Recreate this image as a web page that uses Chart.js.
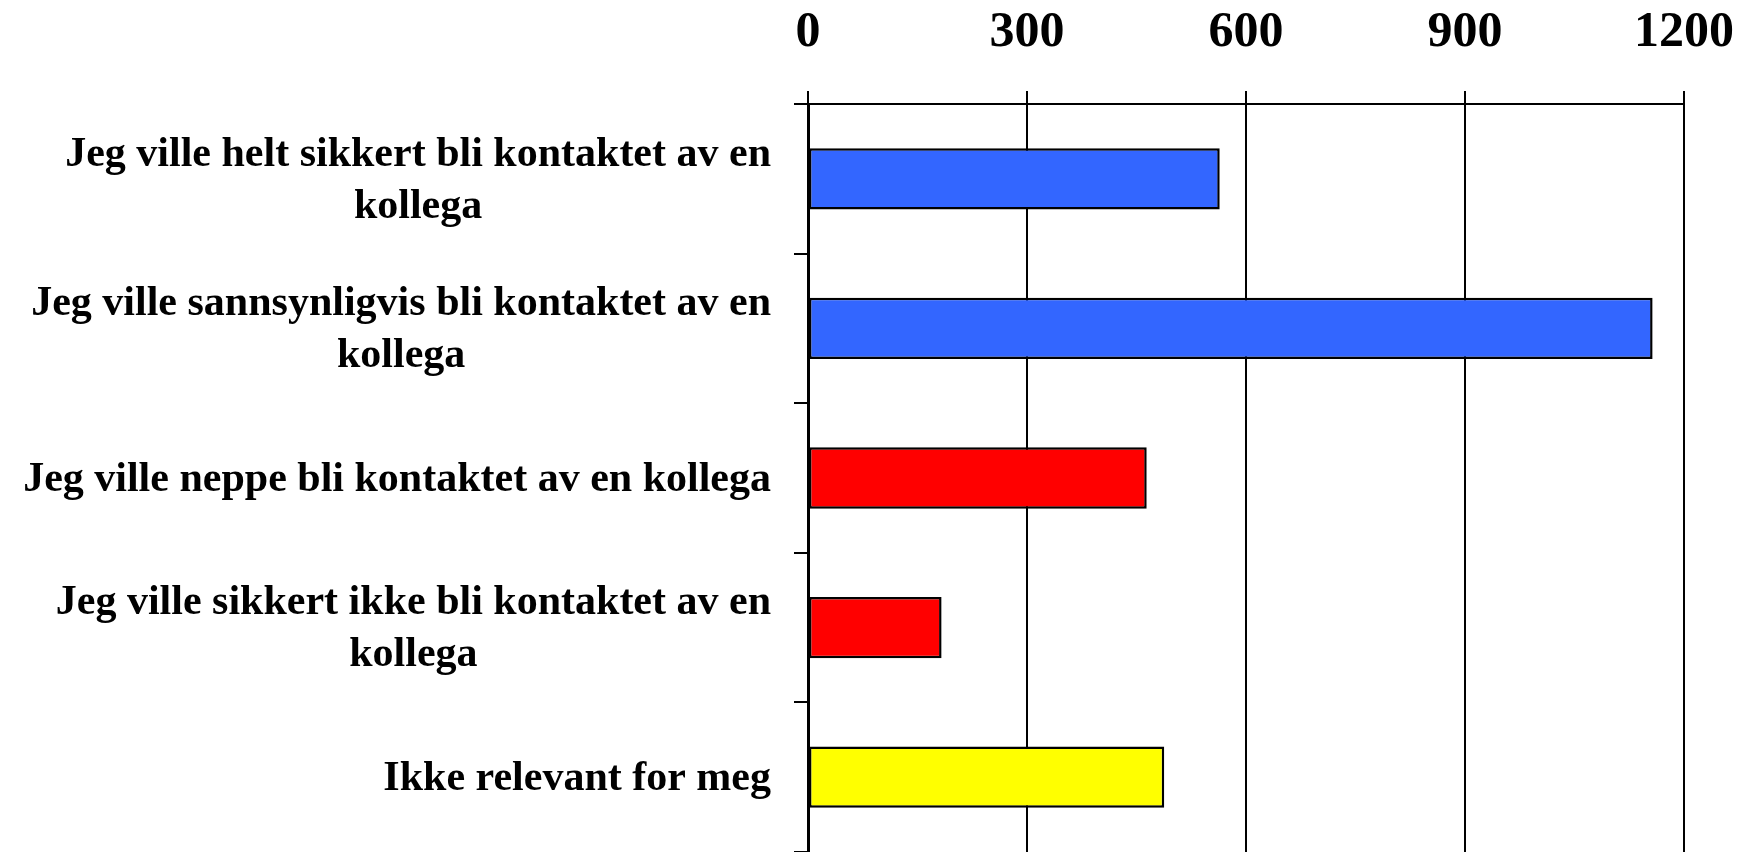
<!DOCTYPE html>
<html>
<head>
<meta charset="utf-8">
<script src="https://cdn.jsdelivr.net/npm/chart.js@4/dist/chart.umd.min.js"></script>
<style>
  html, body { margin: 0; padding: 0; background: #fff; }
  #wrap { width: 1752px; height: 852px; }
</style>
</head>
<body>
<div id="wrap"><canvas id="chart"></canvas></div>
<script>
const categories = [
  ['Jeg ville helt sikkert bli kontaktet av en', 'kollega'],
  ['Jeg ville sannsynligvis bli kontaktet av en', 'kollega'],
  ['Jeg ville neppe bli kontaktet av en kollega'],
  ['Jeg ville sikkert ikke bli kontaktet av en', 'kollega'],
  ['Ikke relevant for meg']
];
const counts = [564, 1157, 464, 183, 488];
const barColors = ['#3366FF', '#3366FF', '#FF0000', '#FF0000', '#FFFF00'];
const xTicks = [0, 300, 600, 900, 1200];

const serif = '"Liberation Serif", "Times New Roman", serif';

// y labels drawn by hand: each label block is centred on itself and right-aligned to the axis
const categoryLabels = {
  id: 'categoryLabels',
  afterDraw(chart) {
    const ctx = chart.ctx;
    const yScale = chart.scales.y;
    const right = yScale.right - 37;
    const lineH = 52;
    ctx.save();
    ctx.font = 'bold 42px ' + serif;
    ctx.fillStyle = '#000';
    ctx.textAlign = 'center';
    ctx.textBaseline = 'middle';
    categories.forEach((lines, i) => {
      const yc = yScale.getPixelForValue(i) + 2;
      const widest = Math.max(...lines.map(l => ctx.measureText(l).width));
      const cx = right - widest / 2;
      lines.forEach((l, j) => {
        ctx.fillText(l, cx, yc + (j - (lines.length - 1) / 2) * lineH);
      });
    });
    ctx.restore();
  }
};

new Chart(document.getElementById('chart').getContext('2d'), {
  type: 'bar',
  data: {
    labels: categories,
    datasets: [{
      data: counts,
      backgroundColor: barColors,
      borderColor: '#000',
      borderWidth: 2.5,
      borderSkipped: false,
      barPercentage: 0.41,
      categoryPercentage: 1
    }]
  },
  options: {
    indexAxis: 'y',
    responsive: true,
    maintainAspectRatio: false,
    animation: false,
    layout: { padding: { top: 0, right: 68, bottom: 0, left: 0 } },
    plugins: { legend: { display: false }, tooltip: { enabled: false } },
    scales: {
      x: {
        position: 'top',
        min: 0,
        max: 1200,
        afterBuildTicks: (scale) => { scale.ticks = xTicks.map(v => ({ value: v })); },
        afterFit: (scale) => {
          scale.height = 104;
          scale.paddingLeft = 0;
          scale.paddingRight = 0;
        },
        ticks: {
          color: '#000',
          padding: 28,
          maxRotation: 0,
          callback: (v) => String(v),
          font: { family: serif, size: 50, weight: 'bold' }
        },
        grid: { color: '#000', lineWidth: 2, tickLength: 13 },
        border: { color: '#000', width: 2 }
      },
      y: {
        ticks: { display: false },
        grid: { drawOnChartArea: false, color: '#000', lineWidth: 2, tickLength: 14 },
        border: { color: '#000', width: 3 },
        afterFit: (scale) => { scale.width = 808; }
      }
    }
  },
  plugins: [categoryLabels]
});
</script>
</body>
</html>
